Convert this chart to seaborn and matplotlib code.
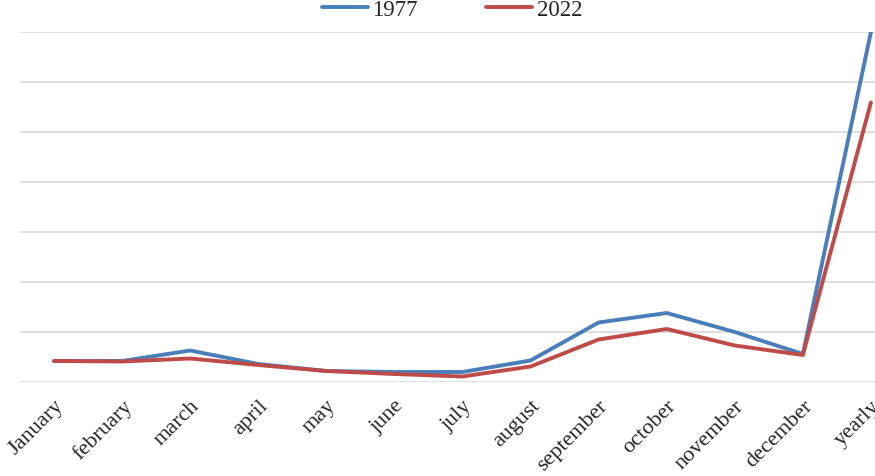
import matplotlib
matplotlib.use("Agg")
import matplotlib.pyplot as plt
import pandas as pd
import seaborn as sns

# 데이터 (그림에서 읽은 값, 눈금 한 칸 = 1)
months = ["January", "february", "march", "april", "may", "june", "july",
          "august", "september", "october", "november", "december", "yearly"]
values_1977 = [0.42, 0.42, 0.63, 0.36, 0.22, 0.20, 0.20,
               0.43, 1.19, 1.38, 1.00, 0.56, 7.00]
values_2022 = [0.42, 0.41, 0.47, 0.34, 0.22, 0.16, 0.11,
               0.31, 0.85, 1.06, 0.73, 0.54, 5.59]
years = ["1977", "2022"]

df = pd.DataFrame({
    "month": months * 2,
    "pos": list(range(len(months))) * 2,
    "value": values_1977 + values_2022,
    "year": [years[0]] * len(months) + [years[1]] * len(months),
})

sns.set_style("white")
plt.rcParams["font.family"] = ["Liberation Serif", "DejaVu Serif"]

fig = plt.figure(figsize=(8.75, 4.77), dpi=100)
ax = fig.add_axes([20 / 875, 1 - 383 / 477, 1 - 20 / 875, 350 / 477])

sns.lineplot(
    data=df, x="pos", y="value", hue="year",
    palette={"1977": "#4A7EBB", "2022": "#BE4B48"},
    linewidth=2.8, ax=ax, legend=True,
)

ax.set_xlim(-0.5, 12.06)
ax.set_ylim(0, 7)
ax.set_yticks(range(0, 8))
ax.set_yticklabels([])
ax.yaxis.grid(True, color="#D9D9D9", linewidth=1.2)
ax.set_axisbelow(True)
ax.tick_params(axis="y", length=0)
ax.tick_params(axis="x", length=0, pad=10)
ax.set_xticks(range(len(months)))
ax.set_xticklabels(months, rotation=45, ha="right", rotation_mode="anchor",
                   fontsize=16)
ax.set_xlabel("")
ax.set_ylabel("")
for s in ax.spines.values():
    s.set_visible(False)

handles, labels = ax.get_legend_handles_labels()
ax.legend(handles, labels, ncol=2, frameon=False, fontsize=16.5,
          loc="upper center", bbox_to_anchor=(452 / 875, 1.02),
          bbox_transform=fig.transFigure, handlelength=2.0,
          columnspacing=3.0, handletextpad=0.2, borderaxespad=0)

fig.savefig("out.png", dpi=100)
